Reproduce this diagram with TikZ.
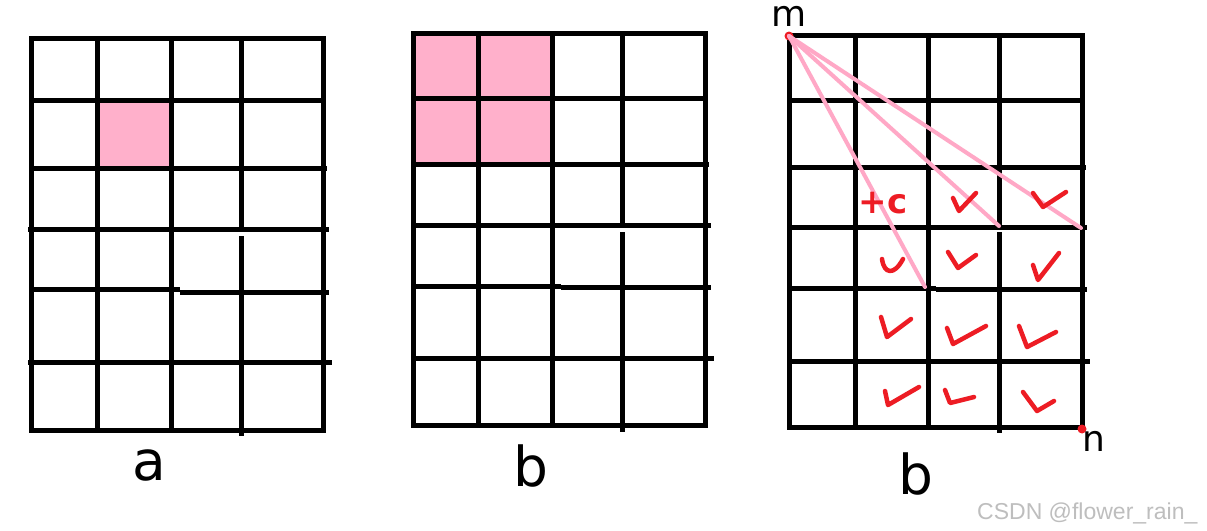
\documentclass[tikz,border=0pt]{standalone}
\usepackage{fontspec}
\newfontfamily\handfont{DejaVu Sans}
\newfontfamily\handbold{DejaVu Sans Bold}
\newfontfamily\wmfont{Liberation Sans}
\definecolor{pinkfill}{RGB}{255,176,203}
\definecolor{pinkline}{RGB}{255,168,198}
\definecolor{redmark}{RGB}{237,28,36}
\definecolor{wmgray}{RGB}{190,190,190}
\tikzset{
  gridline/.style={line width=5pt, line cap=butt},
  gridframe/.style={line width=5pt, line join=miter},
  ray/.style={pinkline, line width=4pt, line cap=round},
  tick/.style={redmark, line width=4.5pt, line cap=round, line join=round},
  handlbl/.style={inner sep=0pt, font=\handfont\fontsize{55}{55}\selectfont},
  cornerlbl/.style={inner sep=0pt, font=\handfont\fontsize{36}{36}\selectfont},
  dotmark/.style={circle, fill=redmark, inner sep=0pt, minimum size=9pt}
}
\begin{document}
\begin{tikzpicture}[x=1pt,y=-1pt]
\useasboundingbox (0,0) rectangle (1207,530);
\fill[white] (0,0) rectangle (1207,530);

% ---------- grid a ----------
\fill[pinkfill] (97,100) rectangle (171,168);
\draw[gridline] (97,38) -- (97,433);
\draw[gridline] (171,38) -- (171,430);
\draw[gridline] (241,38) -- (241,229);
\draw[gridline] (241,236) -- (241,436);
\draw[gridline] (31,100) -- (323,100);
\draw[gridline] (31,168) -- (327,168);
\draw[gridline] (28,229) -- (329,229);
\draw[gridline] (31,289) -- (180,289);
\draw[gridline] (180,292) -- (329,292);
\draw[gridline] (28,362) -- (332,362);
\draw[gridframe] (31,38) rectangle (323,430);
\node[handlbl] (la) at (149,465) {a};

% ---------- grid b ----------
\fill[pinkfill] (413,33) rectangle (552,164);
\draw[gridline] (478,33) -- (478,428);
\draw[gridline] (552,33) -- (552,425);
\draw[gridline] (622,33) -- (622,225);
\draw[gridline] (622,232) -- (622,432);
\draw[gridline] (413,98) -- (705,98);
\draw[gridline] (413,164) -- (709,164);
\draw[gridline] (411,225) -- (711,225);
\draw[gridline] (413,286) -- (561,286);
\draw[gridline] (561,287) -- (711,287);
\draw[gridline] (411,358) -- (714,358);
\draw[gridframe] (413,33) rectangle (705,425);
\node[handlbl] (lb) at (531,466) {b};

% ---------- grid c ----------
\draw[gridline] (855,35) -- (855,430);
\draw[gridline] (928,35) -- (928,427);
\draw[gridline] (999,35) -- (999,227);
\draw[gridline] (999,232) -- (999,433);
\draw[gridline] (789,100) -- (1082,100);
\draw[gridline] (789,167) -- (1086,167);
\draw[gridline] (787,227) -- (1087,227);
\draw[gridline] (789,288) -- (936,288);
\draw[gridline] (936,289) -- (1087,289);
\draw[gridline] (787,361) -- (1090,361);
\draw[gridframe] (789,35) rectangle (1082,427);
\node[handlbl] (lc) at (916,474) {b};

% corner points and rays
\node[dotmark] (m) at (789,36) {};
\node[dotmark] (n) at (1082,429) {};
\node[cornerlbl, anchor=base] (lm) at (789,26) {m};
\node[cornerlbl, anchor=base] (ln) at (1094,451) {n};
\coordinate (r1) at (925,287);
\coordinate (r2) at (999,226);
\coordinate (r3) at (1081,228);
\draw[ray] (m.center) -- (r1);
\draw[ray] (m.center) -- (r2);
\draw[ray] (m.center) -- (r3);

% red marks
\node[inner sep=0pt, text=redmark, font=\handbold\fontsize{34}{34}\selectfont] (pc) at (883,203) {+c};
\draw[tick] (953,198) -- (959,211) -- (976,193);
\draw[tick] (1033,193) -- (1043,207) -- (1066,192);
\draw[tick] (882,259) .. controls (884,274) and (894,276) .. (903,259);
\draw[tick] (948,252) -- (958,268) -- (976,255);
\draw[tick] (1033,265) -- (1038,280) -- (1059,253);
\draw[tick] (881,317) -- (887,337) -- (911,319);
\draw[tick] (947,328) -- (953,344) -- (986,326);
\draw[tick] (1019,326) -- (1027,347) -- (1056,332);
\draw[tick] (885,391) -- (888,405) -- (919,387);
\draw[tick] (945,390) -- (950,403) -- (974,397);
\draw[tick] (1023,392) -- (1037,411) -- (1054,401);

% watermark
\node[anchor=base west, inner sep=0pt, text=wmgray, font=\wmfont\fontsize{23}{23}\selectfont] (wm) at (977,519) {CSDN @flower\_rain\_};
\end{tikzpicture}
\end{document}
